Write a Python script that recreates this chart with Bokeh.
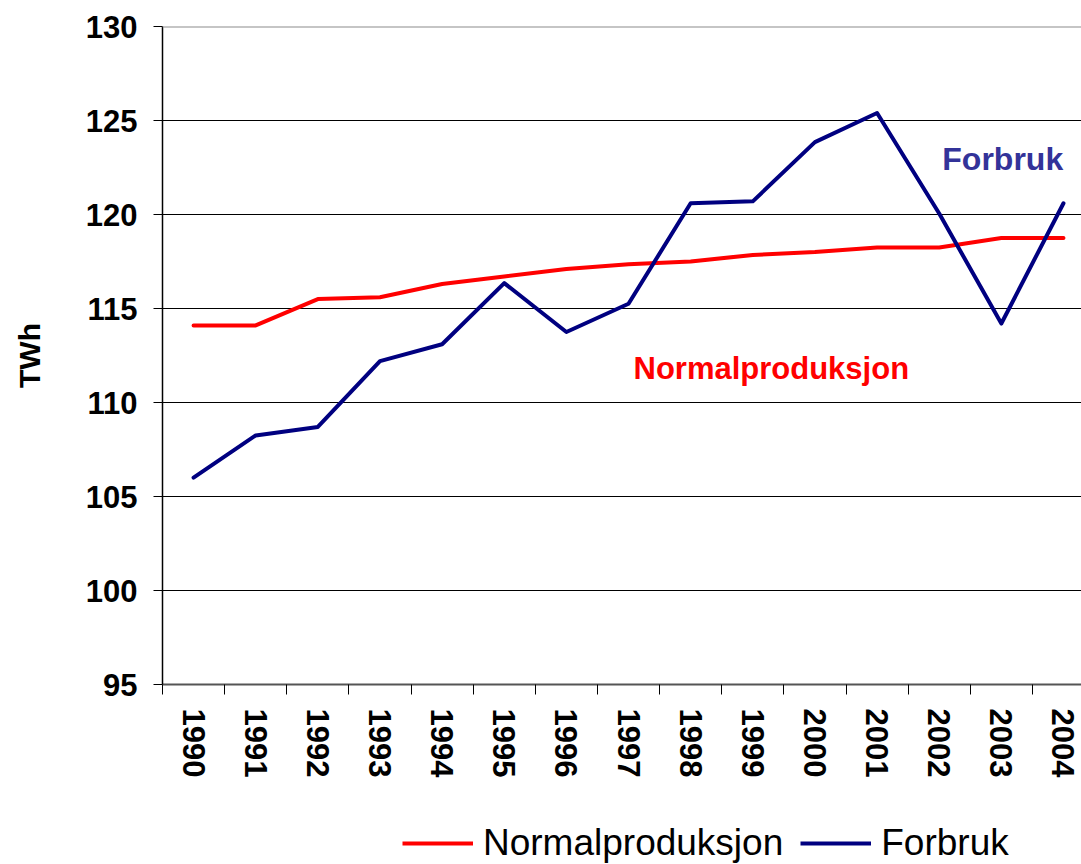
import math
from bokeh.plotting import figure
from bokeh.layouts import column
from bokeh.models import (Range1d, FixedTicker, Legend, LegendItem, Label, Span)
from bokeh.embed import file_html
from bokeh.resources import INLINE

years = ["1990", "1991", "1992", "1993", "1994", "1995", "1996", "1997",
         "1998", "1999", "2000", "2001", "2002", "2003", "2004"]
normalproduksjon = [114.1, 114.1, 115.5, 115.6, 116.3, 116.7, 117.1, 117.35,
                    117.5, 117.85, 118.0, 118.25, 118.25, 118.75, 118.75]
forbruk = [106.0, 108.25, 108.7, 112.2, 113.1, 116.35, 113.75, 115.25,
           120.6, 120.7, 123.85, 125.4, 120.05, 114.2, 120.6]
y_ticks = [95, 100, 105, 110, 115, 120, 125, 130]

FONT = "Liberation Sans"
RED = "#FF0000"
BLUE = "#000080"
LW = 4
xs = [i + 0.5 for i in range(len(years))]

p = figure(width=1081, height=800, output_backend="svg", toolbar_location=None,
           x_range=Range1d(0, 14.79), y_range=Range1d(95, 130),
           min_border_left=162, min_border_right=0, min_border_top=26,
           min_border_bottom=116)
p.outline_line_color = None
p.background_fill_color = "white"
p.border_fill_color = "white"

p.line(xs, normalproduksjon, line_color=RED, line_width=LW,
       line_join="round", line_cap="round")
p.line(xs, forbruk, line_color=BLUE, line_width=LW,
       line_join="round", line_cap="round")

# grid
p.xgrid.visible = False
p.ygrid.ticker = FixedTicker(ticks=[100, 105, 110, 115, 120, 125])
p.ygrid.grid_line_color = "#000000"
p.ygrid.grid_line_width = 1
p.add_layout(Span(location=130, dimension="width", line_color="#8c8c8c", line_width=2))

# y axis
ya = p.yaxis[0]
ya.ticker = FixedTicker(ticks=y_ticks)
ya.axis_label = "TWh"
ya.axis_label_text_font = FONT
ya.axis_label_text_font_style = "bold"
ya.axis_label_text_font_size = "30px"
ya.axis_label_text_color = "black"
ya.axis_label_standoff = 37
ya.major_label_text_font = FONT
ya.major_label_text_font_style = "bold"
ya.major_label_text_font_size = "31px"
ya.major_label_text_color = "black"
ya.major_label_standoff = 16
ya.major_tick_out = 9
ya.major_tick_in = 0
ya.minor_tick_line_color = None
ya.axis_line_color = "black"
ya.axis_line_width = 1.5
ya.major_tick_line_color = "black"

# x axis
xa = p.xaxis[0]
xa.ticker = FixedTicker(ticks=xs, minor_ticks=list(range(len(years) + 1)))
xa.major_label_overrides = {x: y for x, y in zip(xs, years)}
xa.major_label_orientation = -math.pi / 2
xa.major_label_text_font = FONT
xa.major_label_text_font_style = "bold"
xa.major_label_text_font_size = "31px"
xa.major_label_text_color = "black"
xa.major_label_standoff = 14
xa.major_tick_line_color = None
xa.major_tick_in = 0
xa.major_tick_out = 0
xa.minor_tick_in = 0
xa.minor_tick_out = 10
xa.minor_tick_line_color = "black"
xa.axis_line_color = "#555555"
xa.axis_line_width = 2

# annotations
p.add_layout(Label(x=12.55, y=122.93, text="Forbruk", text_color="#333399",
                   text_font=FONT, text_font_style="bold", text_font_size="32px",
                   text_baseline="alphabetic"))
p.add_layout(Label(x=7.58, y=111.8, text="Normalproduksjon", text_color=RED,
                   text_font=FONT, text_font_style="bold", text_font_size="31px",
                   text_baseline="alphabetic"))

# legend strip (same series drawn out of view; legend shows their styles)
lg = figure(width=1081, height=64, output_backend="svg", toolbar_location=None,
            x_range=Range1d(0, 14.79), y_range=Range1d(0, 1),
            min_border=0, x_axis_type=None, y_axis_type=None)
lg.outline_line_color = None
lg.xgrid.visible = False
lg.ygrid.visible = False
l1 = lg.line(xs, normalproduksjon, line_color=RED, line_width=LW)
l2 = lg.line(xs, forbruk, line_color=BLUE, line_width=LW)
legend = Legend(items=[LegendItem(label="Normalproduksjon", renderers=[l1]),
                       LegendItem(label="Forbruk", renderers=[l2])],
                orientation="horizontal", location=(240, 0),
                label_text_font=FONT, label_text_font_size="37px",
                label_text_color="black",
                glyph_width=71, glyph_height=40, label_standoff=10, spacing=17,
                padding=0, margin=0, border_line_color=None,
                background_fill_alpha=0)
lg.add_layout(legend, "center")

open("out.html", "w").write(file_html(column(p, lg, spacing=0), INLINE))
